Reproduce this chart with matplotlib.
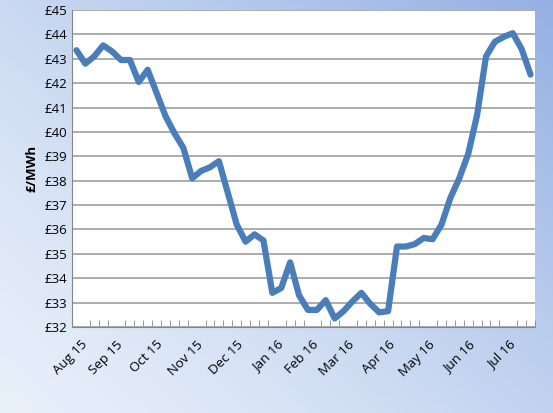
import matplotlib
matplotlib.use("Agg")
import matplotlib.pyplot as plt
import numpy as np

values = [43.35, 42.8, 43.1, 43.55, 43.3, 42.95, 42.95, 42.05, 42.55, 41.6, 40.65, 39.95,
          39.35, 38.1, 38.4, 38.55, 38.8, 37.5, 36.2, 35.5, 35.8, 35.55, 33.4, 33.6, 34.65,
          33.3, 32.7, 32.7, 33.1, 32.35, 32.65, 33.05, 33.4, 32.95, 32.6, 32.65, 35.3, 35.3,
          35.4, 35.65, 35.6, 36.2, 37.3, 38.1, 39.1, 40.7, 43.1, 43.7, 43.9, 44.05, 43.4, 42.35]
month_labels = ["Aug 15", "Sep 15", "Oct 15", "Nov 15", "Dec 15", "Jan 16", "Feb 16",
                "Mar 16", "Apr 16", "May 16", "Jun 16", "Jul 16"]
month_idx = [0.5, 4.5, 9, 13.5, 18, 22.5, 26.5, 30.5, 35, 39.5, 44, 48.5]
yticks = list(range(32, 46))

W, H = 553, 413
fig = plt.figure(figsize=(W/100, H/100), dpi=100)
bg = fig.add_axes([0, 0, 1, 1], zorder=-10)
xx, yy = np.meshgrid(np.linspace(0, 1, 200), np.linspace(1, 0, 200))
t = np.clip(0.55*xx + 0.45*yy, 0, 1)**1.3
c0 = np.array([0.91, 0.94, 0.98]); c1 = np.array([0.58, 0.69, 0.89])
img = c0[None, None, :]*(1-t[..., None]) + c1[None, None, :]*t[..., None]
bg.imshow(img, aspect='auto', extent=[0, 1, 0, 1], origin='upper')
bg.axis('off')

fam = ['Open Sans', 'DejaVu Sans']
ax = fig.add_axes([72/W, 1-327/H, (535-72)/W, (327-10)/H])
ax.set_facecolor('white')
x = np.arange(len(values))
ax.plot(x, values, color='#4a7ebb', lw=4.5, solid_joinstyle='round', solid_capstyle='round')
ax.set_xlim(-0.5, len(values)-0.5)
ax.set_ylim(32, 45)
ax.set_yticks(yticks)
ax.set_yticklabels([f"£{v}" for v in yticks], fontsize=9.5, family=fam)
ax.yaxis.grid(True, color='#a6a6a6', lw=1.3)
ax.set_axisbelow(True)
ax.set_xticks(month_idx)
ax.set_xticklabels(month_labels, rotation=45, ha='right', rotation_mode='anchor',
                   fontsize=9.5, family=fam)
ax.tick_params(axis='x', length=0, pad=8)
ax.set_xticks(np.arange(-0.5, len(values)), minor=True)
ax.tick_params(axis='x', which='minor', length=5, color='#868686', direction='in')
ax.tick_params(axis='y', length=0)
for s in ['top', 'right']:
    ax.spines[s].set_visible(False)
for s in ['left', 'bottom']:
    ax.spines[s].set_color('#868686')
ax.set_ylabel("£/MWh", fontsize=9.5, fontweight='bold', family=fam, labelpad=4)
fig.savefig("out.png", dpi=100)
